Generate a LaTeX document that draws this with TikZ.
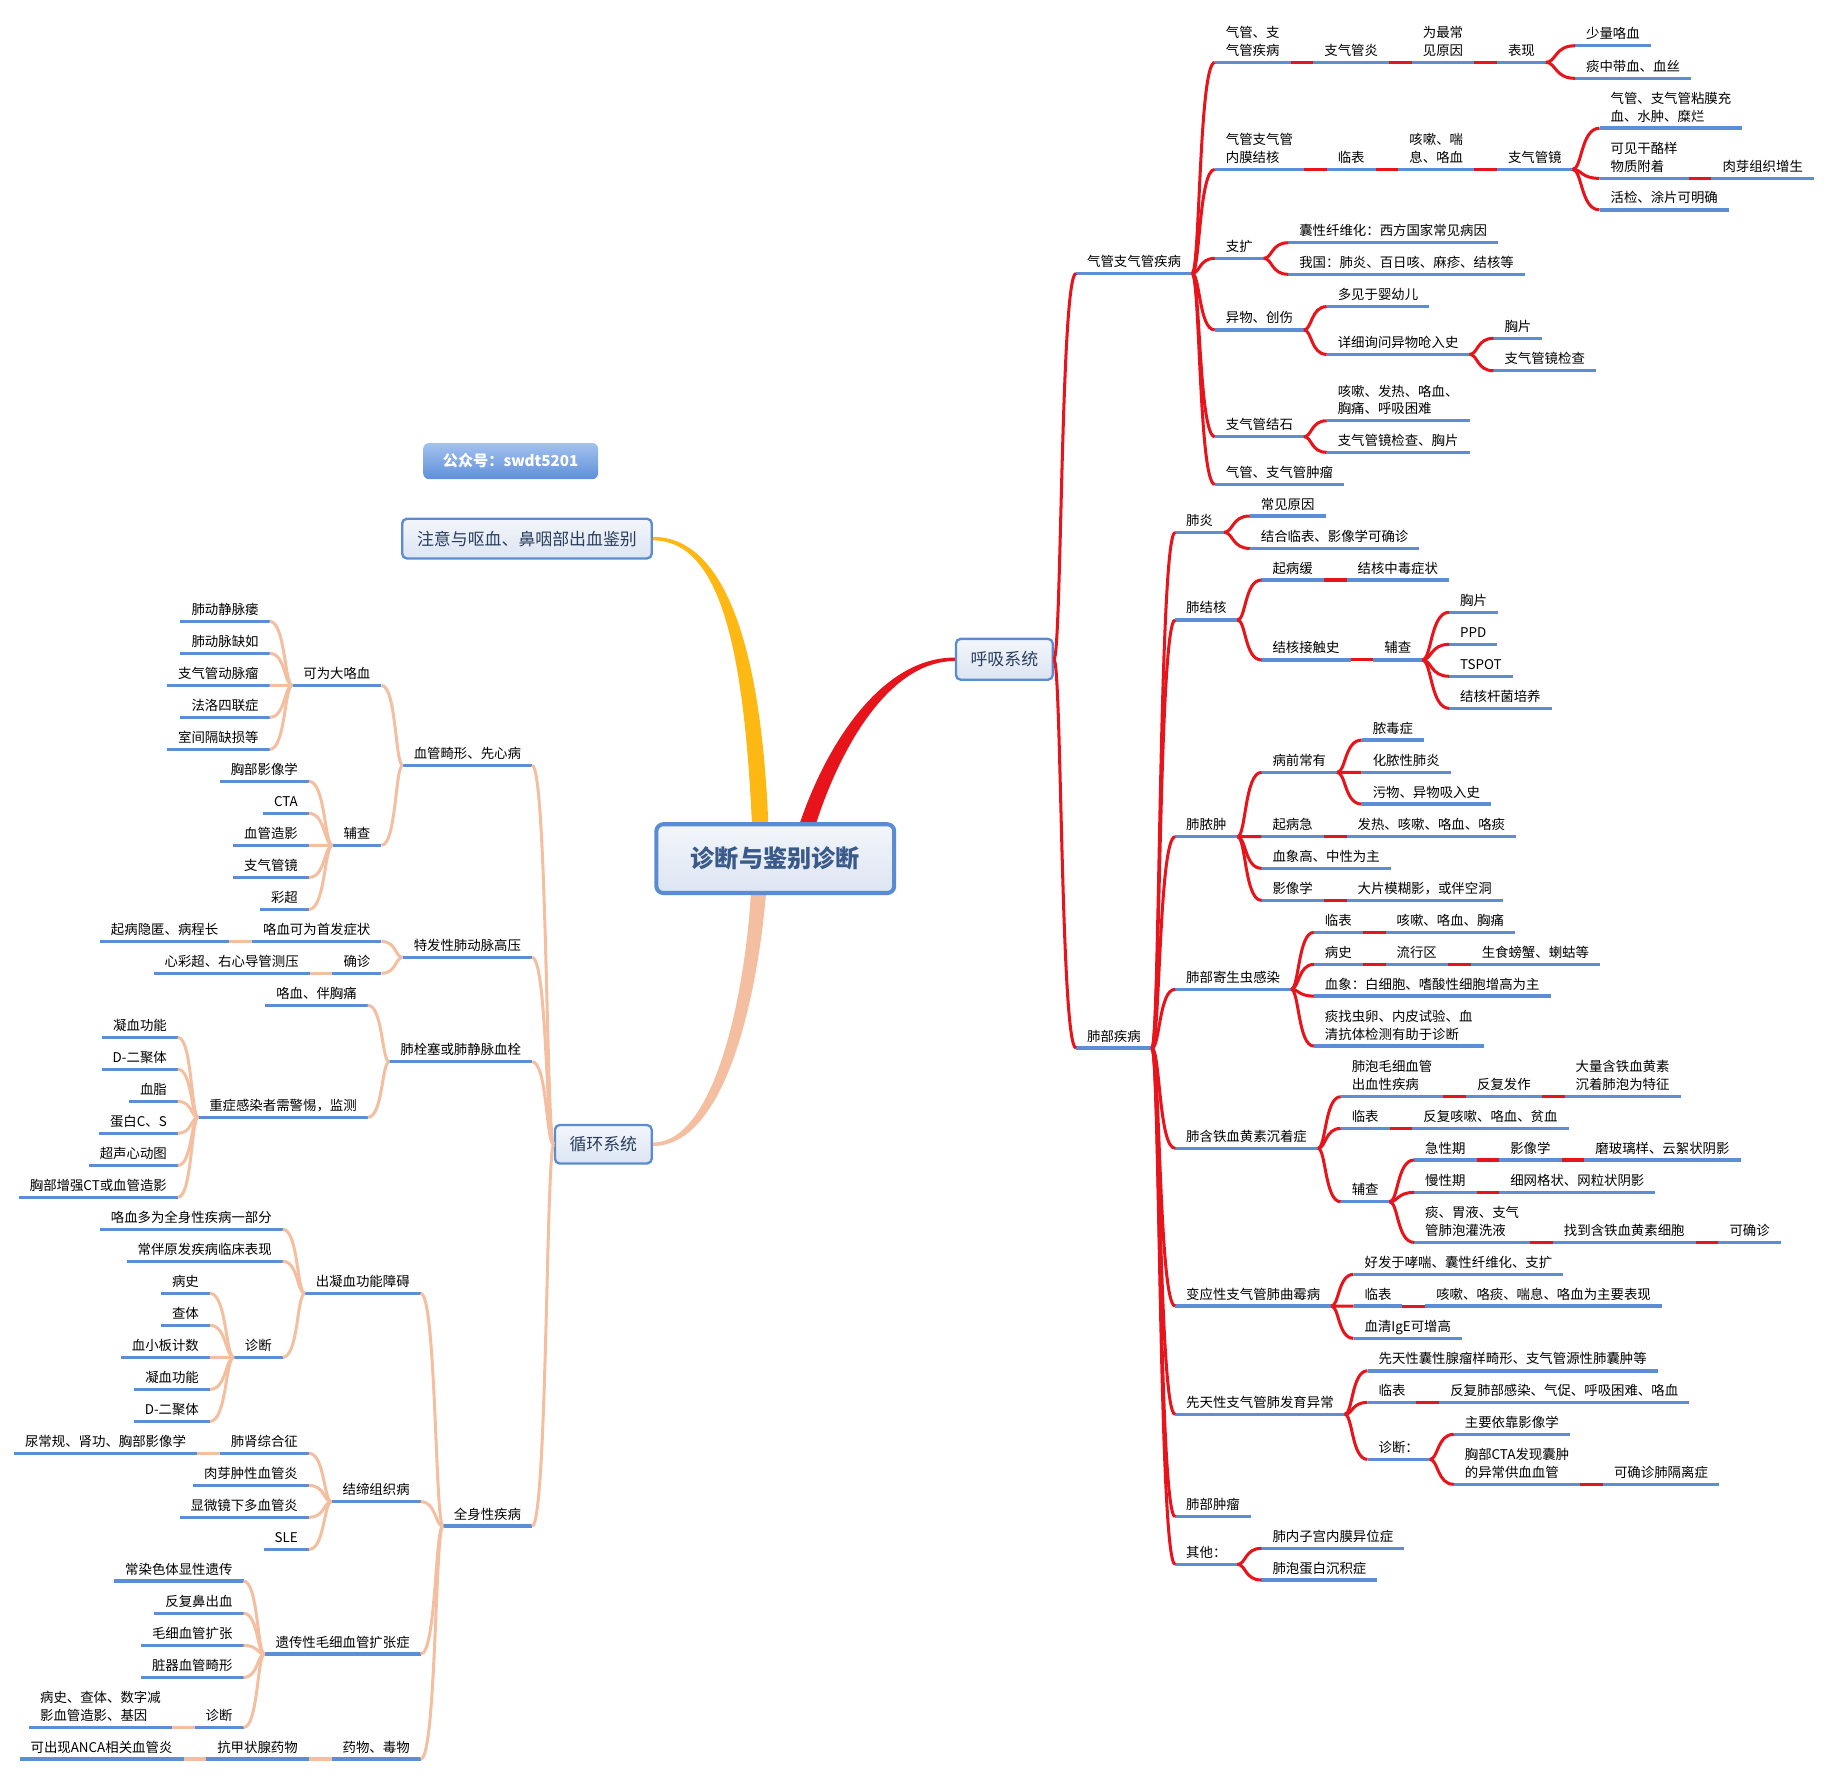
\documentclass[tikz,border=0pt]{standalone}
\usepackage{fontspec}
\setmainfont{Noto Sans CJK SC}
\usetikzlibrary{calc, backgrounds}

\definecolor{lineblue}{HTML}{5B8ED6}
\definecolor{mapred}{HTML}{E8141C}
\definecolor{mappeach}{HTML}{F4BFA1}
\definecolor{mapyellow}{HTML}{FDB813}
\definecolor{boxline}{HTML}{5B8BD3}
\definecolor{boxtop}{HTML}{F3F6FB}
\definecolor{boxbottom}{HTML}{DCE5F2}
\definecolor{boxtext}{HTML}{2A3E5C}
\definecolor{roottext}{HTML}{3A5A8A}
\definecolor{marktop}{HTML}{A3C1EE}
\definecolor{markbottom}{HTML}{5F90DA}

\newcommand{\twolines}[2]{\begin{tabular}[b]{@{}l@{}}#1\\#2\end{tabular}}

\tikzset{
  topic/.style={inner xsep=9.5pt, inner ysep=6pt, outer sep=0pt, text depth=0pt,
    font=\fontsize{11.5}{15.2}\selectfont,
    append after command={\pgfextra{\let\topicnode\tikzlastnode}
      (\topicnode.south west) edge[uline] (\topicnode.south east)}},
  rtopic/.style={topic, anchor=south west},
  ltopic/.style={topic, anchor=south east},
  uline/.style={draw=lineblue, line width=3pt},
  limb/.style={to path={.. controls ($(\tikztostart)!0.35!(\tikztotarget |- \tikztostart)$)
      and ($(\tikztotarget)!0.7!(\tikztostart |- \tikztotarget)$) .. (\tikztotarget)}},
  rlink/.style={draw=mapred, line width=2.6pt},
  clink/.style={draw=mappeach, line width=2.6pt},
  rlimb/.style={rlink, limb},
  climb/.style={clink, limb},
  sysbox/.style={draw=boxline, line width=2pt, rounded corners=4pt, top color=boxtop,
    bottom color=boxbottom, text=boxtext, font=\fontsize{14.5}{17}\selectfont, inner sep=0pt},
  rootbox/.style={draw=boxline, line width=3.5pt, rounded corners=6pt, top color=boxtop,
    bottom color=boxbottom, minimum width=204pt, minimum height=59pt,
    font=\fontsize{20.7}{24}\selectfont\bfseries, text=roottext},
  markbox/.style={rounded corners=5pt, top color=marktop, bottom color=markbottom,
    minimum width=150pt, minimum height=31pt, text=white,
    font=\fontsize{13}{15}\selectfont\bfseries}
}

\begin{document}
\begin{tikzpicture}[x=1pt, y=-1pt]
    \useasboundingbox (0,0) rectangle (1568,1523);

    % Central topic and first level boxes
    \node[rootbox] (root) at (665,736.5) {诊断与鉴别诊断};
    \node[markbox] (mark) at (438,395.5) {公众号：swdt5201};
    \node[sysbox, minimum width=214pt, minimum height=34pt] (warn) at (452,462) {注意与呕血、鼻咽部出血鉴别};
    \node[sysbox, minimum width=83pt, minimum height=35pt] (resp) at (861.5,565.5) {呼吸系统};
    \node[sysbox, minimum width=83pt, minimum height=33pt] (circ) at (517.5,981.5) {循环系统};

    % Tapered main branches
    \begin{scope}[on background layer]
        \fill[mapyellow] ($(warn.east)+(0,-1.5)$) .. controls +(63,0) and +(-6,-148) .. ($(root.north)+(-6,1)$)
            -- ($(root.north)+(-20,1)$) .. controls +(-7,-146) and +(59,0) .. ($(warn.east)+(0,1.5)$) -- cycle;
        \fill[mapred] ($(root.north)+(35,1)$) .. controls +(22,-68) and +(-55,0) .. ($(resp.west)+(0,1.5)$)
            -- ($(resp.west)+(0,-1.5)$) .. controls +(-63,0) and +(23,-68) .. ($(root.north)+(21,1)$) -- cycle;
        \fill[mappeach] ($(root.south)+(-8,-1)$) .. controls +(-6,74) and +(66,0) .. ($(circ.east)+(0,1.5)$)
            -- ($(circ.east)+(0,-1.5)$) .. controls +(56,0) and +(-4,74) .. ($(root.south)+(-21,-1)$) -- cycle;
    \end{scope}

    % Respiratory system
    \node[rtopic] (airway) at (923,234.5) {气管支气管疾病};
    \node[rtopic] (lung) at (923,899) {肺部疾病};
    \foreach \ch in {airway,lung} \draw[rlimb] (resp.east) to (\ch.south west);

    % Airway diseases
    \node[rtopic] (a1) at (1042,53.5) {\twolines{气管、支}{气管疾病}};
    \node[rtopic] (a2) at ($(a1.south east)+(19.5,0)$) {支气管炎};
    \node[rtopic] (a3) at ($(a2.south east)+(19.5,0)$) {\twolines{为最常}{见原因}};
    \node[rtopic] (a4) at ($(a3.south east)+(19.5,0)$) {表现};
    \node[rtopic] (a5) at (1351,39.2) {少量咯血};
    \node[rtopic] (a6) at (1351,67.2) {痰中带血、血丝};

    \node[rtopic] (b1) at (1042,145.3) {\twolines{气管支气管}{内膜结核}};
    \node[rtopic] (b2) at ($(b1.south east)+(19.5,0)$) {临表};
    \node[rtopic] (b3) at ($(b2.south east)+(19.5,0)$) {\twolines{咳嗽、喘}{息、咯血}};
    \node[rtopic] (b4) at ($(b3.south east)+(19.5,0)$) {支气管镜};
    \node[rtopic] (b5) at (1372,110) {\twolines{气管、支气管粘膜充}{血、水肿、糜烂}};
    \node[rtopic] (b6) at (1372,153) {\twolines{可见干酪样}{物质附着}};
    \node[rtopic] (b7) at ($(b6.south east)+(19.5,0)$) {肉芽组织增生};
    \node[rtopic] (b8) at (1372,180) {活检、涂片可明确};

    \node[rtopic] (c1) at (1042,221.6) {支扩};
    \node[rtopic] (c2) at (1105,208.2) {囊性纤维化：西方国家常见病因};
    \node[rtopic] (c3) at (1105,235.3) {我国：肺炎、百日咳、麻疹、结核等};

    \node[rtopic] (d1) at (1042,283) {异物、创伤};
    \node[rtopic] (d2) at (1138,263) {多见于婴幼儿};
    \node[rtopic] (d3) at (1138,304) {详细询问异物呛入史};
    \node[rtopic] (d4) at (1281,290.2) {胸片};
    \node[rtopic] (d5) at (1281,318) {支气管镜检查};

    \node[rtopic] (e1) at (1042,374.6) {支气管结石};
    \node[rtopic] (e2) at (1138,360.9) {\twolines{咳嗽、发热、咯血、}{胸痛、呼吸困难}};
    \node[rtopic] (e3) at (1138,388) {支气管镜检查、胸片};

    \node[rtopic] (f1) at (1042,415.5) {气管、支气管肿瘤};

    \foreach \ch in {a1,b1,c1,d1,e1,f1} \draw[rlimb] (airway.south east) to (\ch.south west);
    \foreach \pa/\ch in {a4/a5,a4/a6,b4/b5,b4/b6,b4/b8,c1/c2,c1/c3,d1/d2,d1/d3,d3/d4,d3/d5,e1/e2,e1/e3}
        \draw[rlimb] (\pa.south east) to (\ch.south west);
    \foreach \pa/\ch in {a1/a2,a2/a3,a3/a4,b1/b2,b2/b3,b3/b4,b6/b7}
        \draw[rlink] (\pa.south east) -- (\ch.south west);

    % Lung diseases
    \node[rtopic] (g1) at (1008,456.6) {肺炎};
    \node[rtopic] (g2) at (1072,442.6) {常见原因};
    \node[rtopic] (g3) at (1072,470.4) {结合临表、影像学可确诊};

    \node[rtopic] (h1) at (1008,531.8) {肺结核};
    \node[rtopic] (h2) at (1082,497.5) {起病缓};
    \node[rtopic] (h3) at ($(h2.south east)+(19.5,0)$) {结核中毒症状};
    \node[rtopic] (h4) at (1082,566.1) {结核接触史};
    \node[rtopic] (h5) at ($(h4.south east)+(19.5,0)$) {辅查};
    \node[rtopic] (h6) at (1243,525.2) {胸片};
    \node[rtopic] (h7) at (1243,552.7) {PPD};
    \node[rtopic] (h8) at (1243,580.1) {TSPOT};
    \node[rtopic] (h9) at (1243,607.6) {结核杆菌培养};

    \node[rtopic] (i1) at (1008,717.7) {肺脓肿};
    \node[rtopic] (i2) at (1082,662.5) {病前常有};
    \node[rtopic] (i3) at (1168,634.8) {脓毒症};
    \node[rtopic] (i4) at (1168,662.5) {化脓性肺炎};
    \node[rtopic] (i5) at (1168,689.7) {污物、异物吸入史};
    \node[rtopic] (i6) at (1082,717.7) {起病急};
    \node[rtopic] (i7) at ($(i6.south east)+(19.5,0)$) {发热、咳嗽、咯血、咯痰};
    \node[rtopic] (i8) at (1082,744.8) {血象高、中性为主};
    \node[rtopic] (i9) at (1082,772.3) {影像学};
    \node[rtopic] (i10) at ($(i9.south east)+(19.5,0)$) {大片模糊影，或伴空洞};

    \node[rtopic] (j1) at (1008,848.6) {肺部寄生虫感染};
    \node[rtopic] (j2) at (1127,799.7) {临表};
    \node[rtopic] (j3) at ($(j2.south east)+(19.5,0)$) {咳嗽、咯血、胸痛};
    \node[rtopic] (j4) at (1127,827.2) {病史};
    \node[rtopic] (j5) at ($(j4.south east)+(19.5,0)$) {流行区};
    \node[rtopic] (j6) at ($(j5.south east)+(19.5,0)$) {生食螃蟹、蝲蛄等};
    \node[rtopic] (j7) at (1127,854.4) {血象：白细胞、嗜酸性细胞增高为主};
    \node[rtopic] (j8) at (1127,897.3) {\twolines{痰找虫卵、内皮试验、血}{清抗体检测有助于诊断}};

    \node[rtopic] (k1) at (1008,985) {肺含铁血黄素沉着症};
    \node[rtopic] (k2) at (1150,940.7) {\twolines{肺泡毛细血管}{出血性疾病}};
    \node[rtopic] (k3) at ($(k2.south east)+(19.5,0)$) {反复发作};
    \node[rtopic] (k4) at ($(k3.south east)+(19.5,0)$) {\twolines{大量含铁血黄素}{沉着肺泡为特征}};
    \node[rtopic] (k5) at (1150,967.9) {临表};
    \node[rtopic] (k6) at ($(k5.south east)+(19.5,0)$) {反复咳嗽、咯血、贫血};
    \node[rtopic] (k7) at (1150,1030.8) {辅查};
    \node[rtopic] (k8) at (1213,995) {急性期};
    \node[rtopic] (k9) at ($(k8.south east)+(19.5,0)$) {影像学};
    \node[rtopic] (k10) at ($(k9.south east)+(19.5,0)$) {磨玻璃样、云絮状阴影};
    \node[rtopic] (k11) at (1213,1022.8) {慢性期};
    \node[rtopic] (k12) at ($(k11.south east)+(19.5,0)$) {细网格状、网粒状阴影};
    \node[rtopic] (k13) at (1213,1065.7) {\twolines{痰、胃液、支气}{管肺泡灌洗液}};
    \node[rtopic] (k14) at ($(k13.south east)+(19.5,0)$) {找到含铁血黄素细胞};
    \node[rtopic] (k15) at ($(k14.south east)+(19.5,0)$) {可确诊};

    \node[rtopic] (l1) at (1008,1120.3) {变应性支气管肺曲霉病};
    \node[rtopic] (l2) at (1161,1093.1) {好发于哮喘、囊性纤维化、支扩};
    \node[rtopic] (l3) at (1161,1120.3) {临表};
    \node[rtopic] (l4) at ($(l3.south east)+(19.5,0)$) {咳嗽、咯痰、喘息、咯血为主要表现};
    \node[rtopic] (l5) at (1161,1148) {血清IgE可增高};

    \node[rtopic] (m1) at (1008,1213.2) {先天性支气管肺发育异常};
    \node[rtopic] (m2) at (1173,1175.8) {先天性囊性腺瘤样畸形、支气管源性肺囊肿等};
    \node[rtopic] (m3) at (1173,1202.9) {临表};
    \node[rtopic] (m4) at ($(m3.south east)+(19.5,0)$) {反复肺部感染、气促、呼吸困难、咯血};
    \node[rtopic] (m5) at (1173,1251.8) {诊断：};
    \node[rtopic] (m6) at (1247,1230.3) {主要依靠影像学};
    \node[rtopic] (m7) at (1247,1273.2) {\twolines{胸部CTA发现囊肿}{的异常供血血管}};
    \node[rtopic] (m8) at ($(m7.south east)+(19.5,0)$) {可确诊肺隔离症};

    \node[rtopic] (n1) at (1008,1301) {肺部肿瘤};
    \node[rtopic] (o1) at (1008,1341.9) {其他：};
    \node[rtopic] (o2) at (1082,1328.1) {肺内子宫内膜异位症};
    \node[rtopic] (o3) at (1082,1355.3) {肺泡蛋白沉积症};

    \foreach \ch in {g1,h1,i1,j1,k1,l1,m1,n1,o1} \draw[rlimb] (lung.south east) to (\ch.south west);
    \foreach \pa/\ch in {g1/g2,g1/g3,h1/h2,h1/h4,h5/h6,h5/h7,h5/h8,h5/h9,i1/i2,i1/i6,i1/i8,i1/i9,
            i2/i3,i2/i4,i2/i5,j1/j2,j1/j4,j1/j7,j1/j8,k1/k2,k1/k5,k1/k7,k7/k8,k7/k11,k7/k13,
            l1/l2,l1/l3,l1/l5,m1/m2,m1/m3,m1/m5,m5/m6,m5/m7,o1/o2,o1/o3}
        \draw[rlimb] (\pa.south east) to (\ch.south west);
    \foreach \pa/\ch in {h2/h3,h4/h5,i6/i7,i9/i10,j2/j3,j4/j5,j5/j6,k2/k3,k3/k4,k5/k6,k8/k9,k9/k10,
            k11/k12,k13/k14,k14/k15,l3/l4,m3/m4,m7/m8}
        \draw[rlink] (\pa.south east) -- (\ch.south west);

    % Circulatory system
    \node[ltopic] (vasc) at (456.4,656.5) {血管畸形、先心病};
    \node[ltopic] (pah) at (456.4,821.2) {特发性肺动脉高压};
    \node[ltopic] (pe) at (456.4,910.7) {肺栓塞或肺静脉血栓};
    \node[ltopic] (sysd) at (456.4,1309) {全身性疾病};
    \foreach \ch in {vasc,pah,pe,sysd} \draw[climb] (circ.west) to (\ch.south east);

    \node[ltopic] (p1) at (327.2,587.9) {可为大咯血};
    \node[ltopic] (p2) at (231.3,533) {肺动静脉瘘};
    \node[ltopic] (p3) at (231.3,560.4) {肺动脉缺如};
    \node[ltopic] (p4) at (231.3,587.9) {支气管动脉瘤};
    \node[ltopic] (p5) at (231.3,615.3) {法洛四联症};
    \node[ltopic] (p6) at (231.3,642.8) {室间隔缺损等};
    \node[ltopic] (p7) at (327.2,725.1) {辅查};
    \node[ltopic] (p8) at (265,670.2) {胸部影像学};
    \node[ltopic] (p9) at (265,697.7) {CTA};
    \node[ltopic] (p10) at (265,725.1) {血管造影};
    \node[ltopic] (p11) at (265,752.6) {支气管镜};
    \node[ltopic] (p12) at (265,780) {彩超};

    \node[ltopic] (q1) at (327.2,807.5) {咯血可为首发症状};
    \node[ltopic] (q2) at ($(q1.south west)+(-19.5,0)$) {起病隐匿、病程长};
    \node[ltopic] (q3) at (327.2,834.9) {确诊};
    \node[ltopic] (q4) at ($(q3.south west)+(-19.5,0)$) {心彩超、右心导管测压};

    \node[ltopic] (r1) at (315.5,862.3) {咯血、伴胸痛};
    \node[ltopic] (r2) at (315.5,958.4) {重症感染者需警惕，监测};
    \node[ltopic] (r3) at (152.6,889.8) {凝血功能};
    \node[ltopic] (r4) at (152.6,917.2) {D-二聚体};
    \node[ltopic] (r5) at (152.6,944.7) {血脂};
    \node[ltopic] (r6) at (152.6,972.1) {蛋白C、S};
    \node[ltopic] (r7) at (152.6,999.6) {超声心动图};
    \node[ltopic] (r8) at (152.6,1027) {胸部增强CT或血管造影};

    \node[ltopic] (s1) at (360.9,1109.4) {出凝血功能障碍};
    \node[ltopic] (s2) at (242.6,1054.5) {咯血多为全身性疾病一部分};
    \node[ltopic] (s3) at (242.6,1081.9) {常伴原发疾病临床表现};
    \node[ltopic] (s4) at (242.6,1164.3) {诊断};
    \node[ltopic] (s5) at (180.1,1109.4) {病史};
    \node[ltopic] (s6) at (180.1,1136.8) {查体};
    \node[ltopic] (s7) at (180.1,1164.3) {血小板计数};
    \node[ltopic] (s8) at (180.1,1191.7) {凝血功能};
    \node[ltopic] (s9) at (180.1,1219.2) {D-二聚体};

    \node[ltopic] (t1) at (360.9,1288.1) {结缔组织病};
    \node[ltopic] (t2) at (265,1246.6) {肺肾综合征};
    \node[ltopic] (t3) at ($(t2.south west)+(-19.5,0)$) {尿常规、肾功、胸部影像学};
    \node[ltopic] (t4) at (265,1274.1) {肉芽肿性血管炎};
    \node[ltopic] (t5) at (265,1301.5) {显微镜下多血管炎};
    \node[ltopic] (t6) at (265,1329) {SLE};

    \node[ltopic] (u1) at (360.9,1418.8) {遗传性毛细血管扩张症};
    \node[ltopic] (u2) at (208.9,1356.2) {常染色体显性遗传};
    \node[ltopic] (u3) at (208.9,1383.9) {反复鼻出血};
    \node[ltopic] (u4) at (208.9,1411.3) {毛细血管扩张};
    \node[ltopic] (u5) at (208.9,1438.8) {脏器血管畸形};
    \node[ltopic] (u6) at (208.9,1481.7) {诊断};
    \node[ltopic] (u7) at ($(u6.south west)+(-19.5,0)$) {\twolines{病史、查体、数字减}{影血管造影、基因}};

    \node[ltopic] (v1) at (360.9,1508.8) {药物、毒物};
    \node[ltopic] (v2) at ($(v1.south west)+(-19.5,0)$) {抗甲状腺药物};
    \node[ltopic] (v3) at ($(v2.south west)+(-19.5,0)$) {可出现ANCA相关血管炎};

    \foreach \pa/\ch in {vasc/p1,vasc/p7,p1/p2,p1/p3,p1/p4,p1/p5,p1/p6,p7/p8,p7/p9,p7/p10,p7/p11,p7/p12,
            pah/q1,pah/q3,pe/r1,pe/r2,r2/r3,r2/r4,r2/r5,r2/r6,r2/r7,r2/r8,
            sysd/s1,sysd/t1,sysd/u1,sysd/v1,s1/s2,s1/s3,s1/s4,s4/s5,s4/s6,s4/s7,s4/s8,s4/s9,
            t1/t2,t1/t4,t1/t5,t1/t6,u1/u2,u1/u3,u1/u4,u1/u5,u1/u6}
        \draw[climb] (\pa.south west) to (\ch.south east);
    \foreach \pa/\ch in {q1/q2,q3/q4,t2/t3,u6/u7,v1/v2,v2/v3}
        \draw[clink] (\pa.south west) -- (\ch.south east);
\end{tikzpicture}
\end{document}
